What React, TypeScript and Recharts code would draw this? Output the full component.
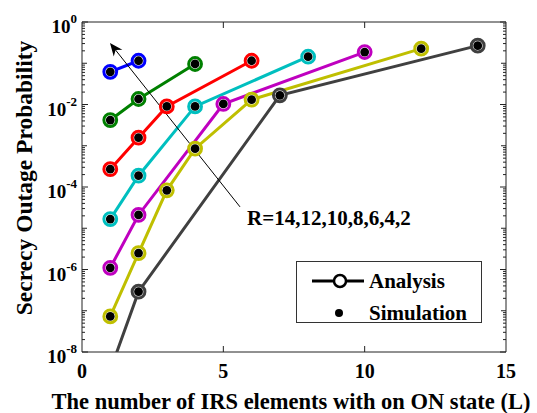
import React from 'react'
import {
  LineChart,
  Line,
  XAxis,
  YAxis,
  ReferenceArea,
  ReferenceLine,
  Legend,
  Label,
} from 'recharts'

// L values (ON elements) and secrecy outage probability, one pair per rate R
const L_R2 = [1, 2]
const P_R2 = [0.062, 0.115]
const L_R4 = [1, 2, 4]
const P_R4 = [0.0042, 0.0136, 0.096]
const L_R6 = [1, 2, 3, 6]
const P_R6 = [2.7e-4, 1.57e-3, 9.0e-3, 0.115]
const L_R8 = [1, 2, 4, 8]
const P_R8 = [1.67e-5, 1.88e-4, 9.0e-3, 0.144]
const L_R10 = [1, 2, 5, 10]
const P_R10 = [1.1e-6, 2.1e-5, 0.0103, 0.187]
const L_R12 = [1, 2, 3, 4, 6, 12]
const P_R12 = [7.3e-8, 2.5e-6, 8.3e-5, 8.5e-4, 0.0131, 0.226]
const L_R14 = [1, 2, 7, 14]
const P_R14 = [3.6e-9, 2.9e-7, 0.0167, 0.267]

const X_TICKS = [0, 5, 10, 15]
const Y_LABEL_TICKS = [1e-8, 1e-6, 1e-4, 1e-2, 1]
const DECADES = [-8, -7, -6, -5, -4, -3, -2, -1]

// arrow from the annotation up to the R=2 curve
const ARROW_TAIL = { x: 5.59, y: 3.3e-5 }
const ARROW_TIP = { x: 0.99, y: 0.31 }
const ARROW_TEXT = 'R=14,12,10,8,6,4,2'

const W = 537
const H = 413
const M = { top: 22, right: 31, left: 0, bottom: 0 }
const Y_W = 82
const X_H = 61
const PL = M.left + Y_W
const PR = W - M.right
const PT = M.top
const PB = H - M.bottom - X_H

const FONT = '"Liberation Serif", "Times New Roman", serif'

const toRows = (ls: number[], ps: number[]) => ls.map((L, i) => ({ L, p: ps[i] }))

const series = [
  { name: 'R=14', color: '#404040', data: toRows(L_R14, P_R14) },
  { name: 'R=12', color: '#bfbf00', data: toRows(L_R12, P_R12) },
  { name: 'R=10', color: '#bf00bf', data: toRows(L_R10, P_R10) },
  { name: 'R=8', color: '#00bfbf', data: toRows(L_R8, P_R8) },
  { name: 'R=6', color: '#ff0000', data: toRows(L_R6, P_R6) },
  { name: 'R=4', color: '#008000', data: toRows(L_R4, P_R4) },
  { name: 'R=2', color: '#0000ff', data: toRows(L_R2, P_R2) },
]

const yTicks: number[] = []
DECADES.forEach((d) => {
  for (let k = 1; k <= 9; k++) yTicks.push(k * Math.pow(10, d))
})
yTicks.push(1)

const isLabelled = (v: number) =>
  Y_LABEL_TICKS.some((t) => Math.abs(Math.log10(v) - Math.log10(t)) < 1e-6)

const YTick = (props: any) => {
  const { y, payload } = props
  const v = payload.value as number
  const major = isLabelled(v)
  const dec = Math.abs(Math.log10(v) - Math.round(Math.log10(v))) < 1e-6
  const len = major ? 6 : dec ? 5 : 3
  const exp = Math.round(Math.log10(v))
  return (
    <g>
      <line x1={PL} x2={PL + len} y1={y} y2={y} stroke="#222" strokeWidth={1} />
      <line x1={PR} x2={PR - len} y1={y} y2={y} stroke="#222" strokeWidth={1} />
      {major && (
        <text x={77} y={y + 11} textAnchor="end" fontFamily={FONT} fontWeight="bold" fontSize={19} fill="#000">
          <tspan>10</tspan>
          <tspan dy={-10} fontSize={13}>{String(exp)}</tspan>
        </text>
      )}
    </g>
  )
}

const XTick = (props: any) => {
  const { x, payload } = props
  const inner = payload.value > 0 && payload.value < 15
  return (
    <g>
      {inner && <line x1={x} x2={x} y1={PB} y2={PB - 6} stroke="#222" strokeWidth={1} />}
      {inner && <line x1={x} x2={x} y1={PT} y2={PT + 6} stroke="#222" strokeWidth={1} />}
      <text x={x} y={PB + 26} textAnchor="middle" fontFamily={FONT} fontWeight="bold" fontSize={20} fill="#000">
        {payload.value}
      </text>
    </g>
  )
}

const makeDot = (color: string) => (props: any) => {
  const { cx, cy, index } = props
  if (cx == null || cy == null) return <g key={index} />
  return (
    <g key={index}>
      <circle cx={cx} cy={cy} r={6.4} fill="#fff" stroke={color} strokeWidth={3} />
      <circle cx={cx} cy={cy} r={4.4} fill="#000" />
    </g>
  )
}

const ArrowShape = (props: any) => {
  const { x1, y1, x2, y2 } = props
  const dx = x2 - x1
  const dy = y2 - y1
  const len = Math.sqrt(dx * dx + dy * dy)
  const ux = dx / len
  const uy = dy / len
  const hl = 13
  const hw = 5.5
  const bx = x2 - ux * hl
  const by = y2 - uy * hl
  const nx = bx + ux * 4
  const ny = by + uy * 4
  const head = [
    `${x2},${y2}`,
    `${bx - uy * hw},${by + ux * hw}`,
    `${nx},${ny}`,
    `${bx + uy * hw},${by - ux * hw}`,
  ].join(' ')
  return (
    <g>
      <line x1={x1} y1={y1} x2={nx} y2={ny} stroke="#000" strokeWidth={1} />
      <polygon points={head} fill="#000" />
      <text x={x1 + 7} y={y1 + 18} fontFamily={FONT} fontWeight="bold" fontSize={21} fill="#000">
        {ARROW_TEXT}
      </text>
    </g>
  )
}

const LegendBox = () => (
  <div style={{ width: 186, height: 62, border: '1px solid #333', background: '#fff', boxSizing: 'border-box' }}>
    <svg width={186} height={62} style={{ display: 'block' }}>
      <line x1={15} x2={67} y1={19} y2={19} stroke="#000" strokeWidth={3} />
      <circle cx={43} cy={19} r={6} fill="#fff" stroke="#000" strokeWidth={2.5} />
      <text x={72} y={26} fontFamily={FONT} fontWeight="bold" fontSize={21} fill="#000">Analysis</text>
      <circle cx={42} cy={51} r={4} fill="#000" />
      <text x={72} y={58} fontFamily={FONT} fontWeight="bold" fontSize={21} fill="#000">Simulation</text>
    </svg>
  </div>
)

export default function App() {
  return (
    <div style={{ position: 'absolute', left: 0, top: 0, width: W, height: H, background: '#fff' }}>
      <LineChart width={W} height={H} margin={M}>
        <XAxis
          dataKey="L"
          type="number"
          domain={[0, 15]}
          ticks={X_TICKS}
          interval={0}
          height={X_H}
          axisLine={false}
          tickLine={false}
          tick={<XTick />}
          allowDuplicatedCategory={false}
        >
          <Label
            content={() => (
              <text x={291} y={409} textAnchor="middle" fontFamily={FONT} fontWeight="bold" fontSize={22.5} fill="#000">
                The number of IRS elements with on ON state (L)
              </text>
            )}
          />
        </XAxis>
        <YAxis
          type="number"
          scale="log"
          domain={[1e-8, 1]}
          allowDataOverflow
          ticks={yTicks}
          interval={0}
          width={Y_W}
          axisLine={false}
          tickLine={false}
          tick={<YTick />}
        >
          <Label
            content={() => (
              <text
                x={24}
                y={178}
                transform="rotate(-90 24 178)"
                textAnchor="middle"
                dominantBaseline="central"
                fontFamily={FONT}
                fontWeight="bold"
                fontSize={23.5}
                fill="#000"
              >
                Secrecy Outage Probability
              </text>
            )}
          />
        </YAxis>
        {series.map((s) => (
          <Line
            key={s.name}
            data={s.data}
            dataKey="p"
            name={s.name}
            type="linear"
            stroke={s.color}
            strokeWidth={3}
            dot={makeDot(s.color)}
            activeDot={false}
            isAnimationActive={false}
            legendType="none"
          />
        ))}
        <ReferenceArea x1={0} x2={15} y1={1e-8} y2={1} fill="none" fillOpacity={0} stroke="#222" strokeWidth={1} />
        <ReferenceLine segment={[ARROW_TAIL, ARROW_TIP]} stroke="#000" shape={<ArrowShape />} />
        <Legend
          layout="vertical"
          align="center"
          verticalAlign="middle"
          content={<LegendBox />}
          wrapperStyle={{ position: 'absolute', left: 296, top: 261, width: 186, height: 62 }}
        />
      </LineChart>
    </div>
  )
}
